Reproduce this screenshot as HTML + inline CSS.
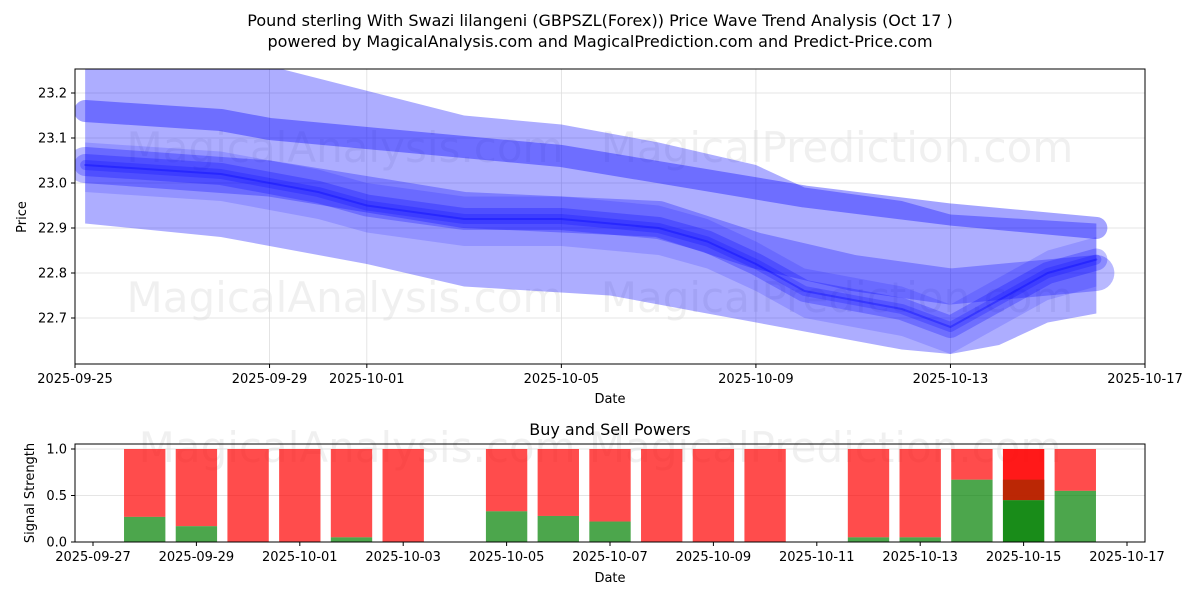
<!DOCTYPE html>
<html><head><meta charset="utf-8">
<style>
body{margin:0;background:#fff;font-family:"Liberation Sans","DejaVu Sans",sans-serif;}
svg text{font-family:"DejaVu Sans","Liberation Sans",sans-serif;}
</style></head>
<body>
<svg id="c" width="1200" height="600" xmlns="http://www.w3.org/2000/svg">
<defs><clipPath id="pc"><rect x="75" y="69" width="1070" height="295"/></clipPath></defs>
<text x="600" y="26" text-anchor="middle" font-size="16">Pound sterling With Swazi lilangeni (GBPSZL(Forex)) Price Wave Trend Analysis (Oct 17 )</text>
<text x="600" y="47" text-anchor="middle" font-size="16">powered by MagicalAnalysis.com and MagicalPrediction.com and Predict-Price.com</text>
<g id="topg"></g>
<g id="botg"></g>
</svg>
<script>
// ---- top chart data ----
const envDates=['2025-09-25T05:00','2025-09-29','2025-10-03','2025-10-05','2025-10-07','2025-10-09','2025-10-10','2025-10-12','2025-10-13','2025-10-16'];
const envUpper=[23.26,23.26,23.15,23.13,23.09,23.04,22.99,22.96,22.93,22.91];
const lowDates=['2025-09-25T05:00','2025-09-28','2025-10-01','2025-10-03','2025-10-06','2025-10-08','2025-10-10','2025-10-12','2025-10-13','2025-10-14','2025-10-15','2025-10-16'];
const envLower=[22.91,22.88,22.82,22.77,22.75,22.71,22.67,22.63,22.62,22.64,22.69,22.71];
const midDates=['2025-09-25T05:00','2025-09-28','2025-09-30','2025-10-01','2025-10-03','2025-10-05','2025-10-07','2025-10-08','2025-10-09','2025-10-10','2025-10-12','2025-10-13','2025-10-14','2025-10-15','2025-10-16'];
const midValues=[23.04,23.02,22.98,22.95,22.92,22.92,22.90,22.87,22.82,22.76,22.72,22.68,22.74,22.80,22.83];
const bandADates=['2025-09-25T05:00','2025-09-28','2025-09-29','2025-10-05','2025-10-10','2025-10-13','2025-10-16'];
const bandAValues=[23.16,23.14,23.12,23.06,22.97,22.93,22.90];
const bandBDates=['2025-09-25T05:00','2025-09-29','2025-10-03','2025-10-07','2025-10-09','2025-10-11','2025-10-13','2025-10-16'];
const bandBValues=[23.04,23.01,22.94,22.92,22.85,22.80,22.77,22.80];
const yTicks=[22.7,22.8,22.9,23.0,23.1,23.2];
const xTicks=['2025-09-25','2025-09-29','2025-10-01','2025-10-05','2025-10-09','2025-10-13','2025-10-17'];
// ---- bottom chart data ----
const barDates=['2025-09-28','2025-09-29','2025-09-30','2025-10-01','2025-10-02','2025-10-03','2025-10-05','2025-10-06','2025-10-07','2025-10-08','2025-10-09','2025-10-10','2025-10-12','2025-10-13','2025-10-14','2025-10-15','2025-10-16'];
const buyValues=[0.27,0.17,0,0,0.05,0,0.33,0.28,0.22,0,0,0,0.05,0.05,0.67,0.45,0.55];
const bxTicks=['2025-09-27','2025-09-29','2025-10-01','2025-10-03','2025-10-05','2025-10-07','2025-10-09','2025-10-11','2025-10-13','2025-10-15','2025-10-17'];
const byTicks=[0,0.5,1.0];
const overlayDate='2025-10-15';
const overlayTop=0.67;

const NS='http://www.w3.org/2000/svg';
function mk(p,tag,at){const e=document.createElementNS(NS,tag);for(const k in at)e.setAttribute(k,at[k]);p.appendChild(e);return e;}
const day=s=>Date.parse(s+(s.length>10?'Z':''))/864e5;
const tx=s=>75+(day(s)-day('2025-09-25'))*(1070/22);
const ty=v=>183-(v-23.0)*450;
const topG=document.getElementById('topg');
[[345,148],[837,148],[345,298],[837,298]].forEach((p,i)=>{const w=mk(topG,'text',{x:p[0],y:p[1]+14,'text-anchor':'middle','font-size':42,fill:'#000','fill-opacity':0.06});w.textContent=i%2?'MagicalPrediction.com':'MagicalAnalysis.com';

});
yTicks.forEach(v=>{const l=mk(topG,'line',{x1:75,x2:1145,y1:ty(v),y2:ty(v),stroke:'#ddd','stroke-width':0.8});

});
xTicks.forEach(d=>{const l=mk(topG,'line',{x1:tx(d),x2:tx(d),y1:69,y2:364,stroke:'#ddd','stroke-width':0.8});

});
const plot=mk(topG,'g',{'clip-path':'url(#pc)'});


let pts=envDates.map((d,i)=>tx(d)+','+ty(envUpper[i]));
for(let i=lowDates.length-1;i>=0;i--)pts.push(tx(lowDates[i])+','+ty(envLower[i]));
const env=mk(plot,'polygon',{points:pts.join(' '),fill:'#0000ff','fill-opacity':0.32});


let ip=midDates.map((d,i)=>tx(d)+','+ty(midValues[i]+0.05));
for(let i=midDates.length-1;i>=0;i--)ip.push(tx(midDates[i])+','+ty(midValues[i]-0.06));
const ie=mk(plot,'polygon',{points:ip.join(' '),fill:'#0000ff','fill-opacity':0.15});


function band(ds,vs,w,op,name){const p=mk(plot,'polyline',{points:ds.map((d,i)=>tx(d)+','+ty(vs[i])).join(' '),fill:'none',stroke:'#0000ff','stroke-opacity':op,'stroke-width':w,'stroke-linecap':'round','stroke-linejoin':'round'});

}
band(bandADates,bandAValues,22,0.36,'wave-band-a');
band(bandBDates,bandBValues,36,0.28,'wave-band-b');
band(midDates,midValues,22,0.25,'wave-band-mid');
band(midDates,midValues,10,0.22,'wave-band-core');
band(midDates,midValues,2,0.35,'trend-line');
const fr=mk(topG,'rect',{x:75,y:69,width:1070,height:295,fill:'none',stroke:'#000','stroke-width':1});


yTicks.forEach(v=>{mk(topG,'line',{x1:71,x2:75,y1:ty(v),y2:ty(v),stroke:'#000'});const q=mk(topG,'text',{x:67,y:ty(v)+4.5,'text-anchor':'end','font-size':13});q.textContent=v.toFixed(1);

});
xTicks.forEach(d=>{mk(topG,'line',{x1:tx(d),x2:tx(d),y1:364,y2:368,stroke:'#000'});const q=mk(topG,'text',{x:tx(d),y:383,'text-anchor':'middle','font-size':13});q.textContent=d;

});
let lab=mk(topG,'text',{x:610,y:403,'text-anchor':'middle','font-size':13});lab.textContent='Date';


lab=mk(topG,'text',{x:26,y:217,'text-anchor':'middle','font-size':13,transform:'rotate(-90 26 217)'});lab.textContent='Price';



// ---- bottom ----
const botG=document.getElementById('botg');
const bx=s=>93+(day(s)-day('2025-09-27'))*(1034/20);
const by=v=>542-v*93;
lab=mk(botG,'text',{x:610,y:435,'text-anchor':'middle','font-size':16});lab.textContent='Buy and Sell Powers';


lab=mk(botG,'text',{x:600,y:462,'text-anchor':'middle','font-size':42,'fill-opacity':0.06});lab.textContent='MagicalAnalysis.com        MagicalPrediction.com';


byTicks.forEach(v=>{const l=mk(botG,'line',{x1:75,x2:1145,y1:by(v),y2:by(v),stroke:'#ddd','stroke-width':0.8});

});
const bw=0.8*1034/20;
barDates.forEach((d,i)=>{const x=bx(d)-bw/2,b=buyValues[i];const hi=d===overlayDate;
const r=mk(botG,'rect',{x:x,y:by(1),width:bw,height:by(b)-by(1),fill:'#ff0000','fill-opacity':hi?0.9:0.7});


if(hi){const o=mk(botG,'rect',{x:x,y:by(overlayTop),width:bw,height:by(b)-by(overlayTop),fill:'#aa2a00','fill-opacity':0.8});

}
const g=mk(botG,'rect',{x:x,y:by(b),width:bw,height:542-by(b),fill:'#008000','fill-opacity':hi?0.9:0.7});

});
const bf=mk(botG,'rect',{x:75,y:444,width:1070,height:98,fill:'none',stroke:'#000'});


byTicks.forEach(v=>{mk(botG,'line',{x1:71,x2:75,y1:by(v),y2:by(v),stroke:'#000'});const q=mk(botG,'text',{x:67,y:by(v)+4.5,'text-anchor':'end','font-size':13});q.textContent=v.toFixed(1);

});
bxTicks.forEach(d=>{mk(botG,'line',{x1:bx(d),x2:bx(d),y1:542,y2:546,stroke:'#000'});const q=mk(botG,'text',{x:bx(d),y:561,'text-anchor':'middle','font-size':13});q.textContent=d;

});
lab=mk(botG,'text',{x:610,y:582,'text-anchor':'middle','font-size':13});lab.textContent='Date';


lab=mk(botG,'text',{x:34,y:493,'text-anchor':'middle','font-size':13,transform:'rotate(-90 34 493)'});lab.textContent='Signal Strength';


</script>
</body></html>
